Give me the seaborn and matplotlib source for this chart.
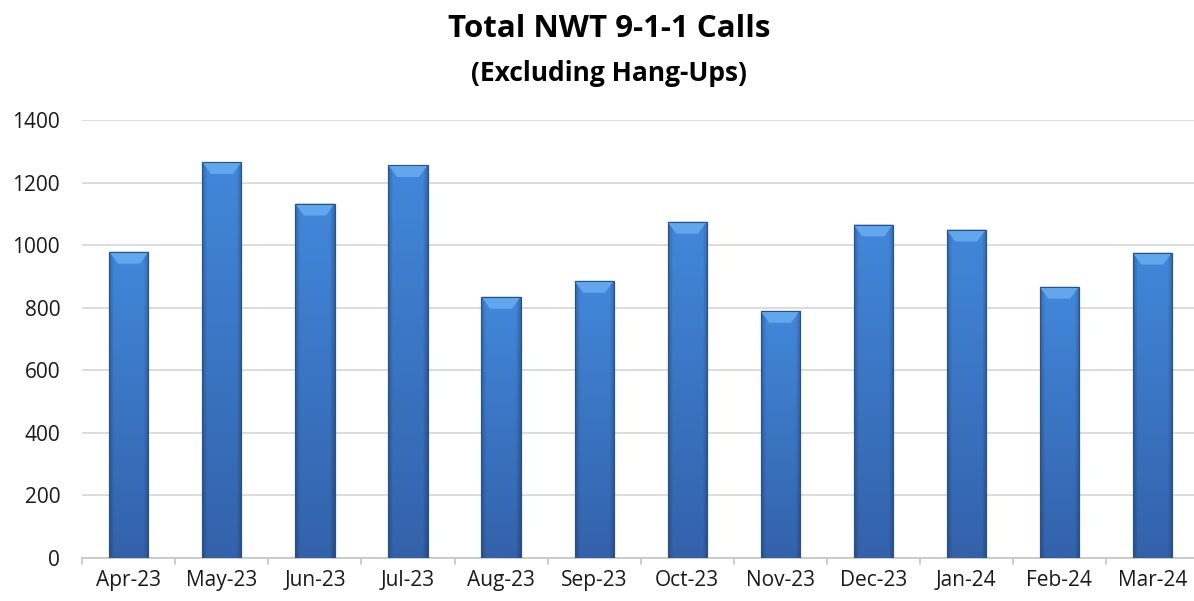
import numpy as np
import pandas as pd
import matplotlib
matplotlib.use("Agg")
import matplotlib.pyplot as plt
import seaborn as sns
from matplotlib.colors import to_rgb

months = ["Apr-23", "May-23", "Jun-23", "Jul-23", "Aug-23", "Sep-23",
          "Oct-23", "Nov-23", "Dec-23", "Jan-24", "Feb-24", "Mar-24"]
calls = [979, 1266, 1133, 1256, 835, 886, 1075, 790, 1066, 1050, 867, 976]
yticks = [0, 200, 400, 600, 800, 1000, 1200, 1400]

sns.set_theme(style="white")
plt.rcParams['font.family'] = ['Open Sans', 'DejaVu Sans']

df = pd.DataFrame({"month": months, "calls": calls})

fig = plt.figure(figsize=(11.94, 6.01), dpi=100)
ax = fig.add_axes([0.069, 0.072, 0.935, 0.728])

sns.barplot(data=df, x="month", y="calls", color="#3d7ed0", width=0.42,
            edgecolor="#2e5a8f", linewidth=0.8, ax=ax, zorder=3)

# shaded bar body: vertical gradient + darker side edges
top_c = np.array(to_rgb("#4287da"))
bot_c = np.array(to_rgb("#3362aa"))
nx, ny = 40, 100
xs = np.linspace(0, 1, nx)
ys = np.linspace(0, 1, ny)[:, None, None]  # 0 = top row
base = top_c * (1 - ys) + bot_c * ys
edge = np.clip(np.minimum(xs, 1 - xs) / 0.12, 0, 1)
shade = (0.78 + 0.22 * edge)[None, :, None]
img = np.clip(base * shade, 0, 1)

for p in ax.patches:
    x0, w, h = p.get_x(), p.get_width(), p.get_height()
    im = ax.imshow(img, aspect="auto", extent=[x0, x0 + w, 0, h],
                   zorder=4, interpolation="bilinear")
    im.set_clip_path(p)
    cap = 38
    tri = plt.Polygon([[x0, h], [x0 + w, h], [x0 + w * 0.78, h - cap], [x0 + w * 0.22, h - cap]],
                      closed=True, facecolor="#62a6ee", edgecolor="none", zorder=5)
    ax.add_patch(tri)
    ax.add_patch(plt.Rectangle((x0, 0), w, h, fill=False, edgecolor="#2a5385",
                               linewidth=0.8, zorder=6))

ax.set_ylim(0, 1400)
ax.set_xlim(-0.5, len(months) - 0.5)
ax.set_yticks(yticks)
ax.set_yticklabels([str(v) for v in yticks], fontsize=15, color="#1a1a1a")
ax.tick_params(axis="x", labelsize=15, colors="#1a1a1a", length=0, pad=9)
ax.tick_params(axis="y", length=0, pad=16)
ax.set_xlabel("")
ax.set_ylabel("")
ax.yaxis.grid(True, color="#d9d9d9", linewidth=1.3, zorder=0)
ax.set_axisbelow(True)
for s in ["top", "right", "left"]:
    ax.spines[s].set_visible(False)
ax.spines["bottom"].set_color("#c8c8c8")
ax.spines["bottom"].set_linewidth(1.3)

for i in range(len(months) + 1):
    ax.plot([i - 0.5, i - 0.5], [0, -20], color="#c8c8c8", lw=1.3, clip_on=False, zorder=2)

fig.text(0.51, 0.951, "Total NWT 9-1-1 Calls", ha="center", va="center",
         fontsize=22.5, fontweight="bold", color="#000000")
fig.text(0.51, 0.878, "(Excluding Hang-Ups)", ha="center", va="center",
         fontsize=19, fontweight="bold", color="#000000")

fig.savefig("out.png", dpi=100)
